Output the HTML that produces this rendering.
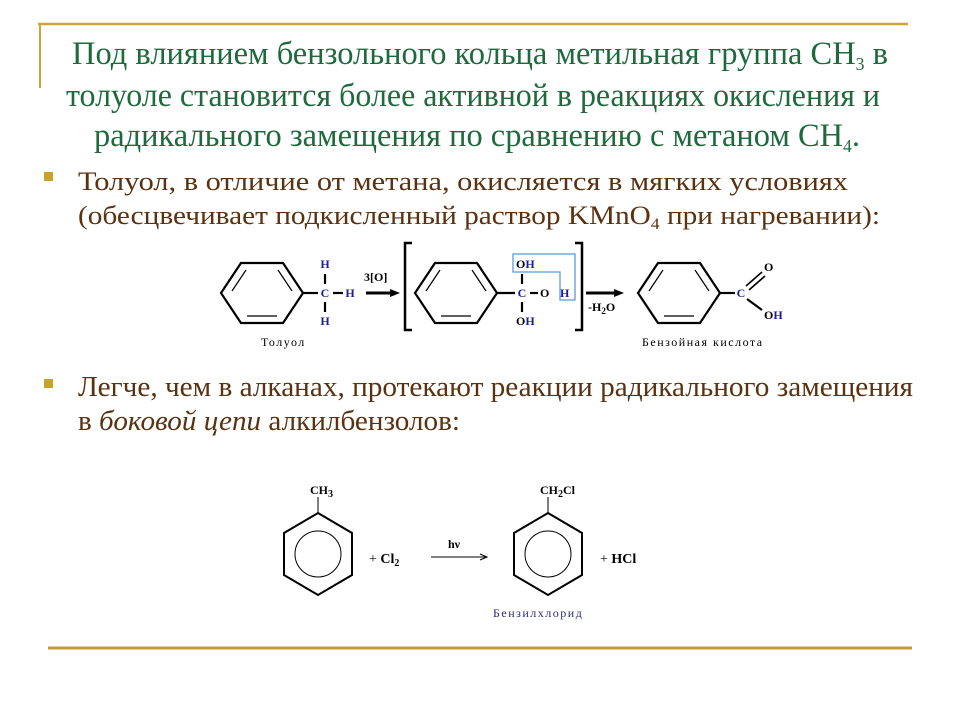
<!DOCTYPE html>
<html><head><meta charset="utf-8"><style>
html,body{margin:0;padding:0;background:#fff;width:960px;height:720px;overflow:hidden}
svg{display:block}
.t{font-family:"Liberation Serif",serif;fill:#1e6a3c;font-size:33px}
.b{font-family:"Liberation Serif",serif;fill:#5a3210;font-size:26.5px}
.b2{font-family:"Liberation Serif",serif;fill:#5a3210;font-size:28px}
.c{font-family:"Liberation Serif",serif;font-weight:bold;font-size:12px}
.bl{fill:#1a1a9a}
.lab{font-family:"Liberation Serif",serif;font-size:12px;letter-spacing:1.5px}
</style></head><body>
<svg width="960" height="720" viewBox="0 0 960 720" xmlns="http://www.w3.org/2000/svg">
<line x1="38" y1="24" x2="908" y2="24" stroke="#cfa53a" stroke-width="2.5"/>
<line x1="40" y1="23" x2="40" y2="88" stroke="#cfa53a" stroke-width="2"/>
<line x1="48" y1="648" x2="912" y2="648" stroke="#c49a3a" stroke-width="3"/>

<text class="t" x="72" y="64" textLength="816" lengthAdjust="spacingAndGlyphs">Под влиянием бензольного кольца метильная группа CH<tspan font-size="18" dy="6">3</tspan><tspan dy="-6"> в</tspan></text>
<text class="t" x="66" y="106" textLength="814" lengthAdjust="spacingAndGlyphs">толуоле становится более активной в реакциях окисления и</text>
<text class="t" x="94" y="146" textLength="766" lengthAdjust="spacingAndGlyphs">радикального замещения по сравнению с метаном CH<tspan font-size="18" dy="6">4</tspan><tspan dy="-6">.</tspan></text>

<rect x="44" y="172" width="9" height="9" fill="#c9a227"/>
<text class="b" x="78" y="190" textLength="770" lengthAdjust="spacingAndGlyphs">Толуол, в отличие от метана, окисляется в мягких условиях</text>
<text class="b" x="78" y="224" textLength="802" lengthAdjust="spacingAndGlyphs">(обесцвечивает подкисленный раствор KMnO<tspan font-size="16" dy="5">4</tspan><tspan dy="-5"> при нагревании):</tspan></text>

<rect x="44" y="379" width="9" height="9" fill="#c9a227"/>
<text class="b2" x="78" y="396" textLength="835" lengthAdjust="spacingAndGlyphs">Легче, чем в алканах, протекают реакции радикального замещения</text>
<text class="b2" x="78" y="430" textLength="382" lengthAdjust="spacingAndGlyphs">в <tspan font-style="italic">боковой цепи</tspan> алкилбензолов:</text>

<g stroke="#000" stroke-width="2.2" fill="none">
  <polygon points="221,293 241,263 283,263 303,293 283,323 241,323"/>
  <line x1="232" y1="291" x2="246" y2="270" stroke-width="1.2"/>
  <line x1="278" y1="270" x2="292" y2="291" stroke-width="1.2"/>
  <line x1="247" y1="316" x2="277" y2="316" stroke-width="1.2"/>
  <line x1="303" y1="293" x2="318" y2="293"/>
  <line x1="325" y1="274" x2="325" y2="284"/>
  <line x1="325" y1="302" x2="325" y2="312"/>
  <line x1="333" y1="293" x2="343" y2="293"/>
  <line x1="366" y1="293" x2="392" y2="293" stroke-width="3"/>
</g>
<polygon points="390,289 400,293 390,297" fill="#000"/>
<text class="c bl" x="325" y="268" text-anchor="middle">H</text>
<text class="c bl" x="325" y="297" text-anchor="middle">C</text>
<text class="c bl" x="325" y="325" text-anchor="middle">H</text>
<text class="c bl" x="350" y="297" text-anchor="middle">H</text>
<text class="c" x="364" y="281">3[O]</text>
<text class="lab" x="261" y="346">Толуол</text>

<path d="M412,243 H405 V330 H412" stroke="#000" stroke-width="2.5" fill="none"/>
<path d="M575,243 H582 V330 H575" stroke="#000" stroke-width="2.5" fill="none"/>
<g stroke="#000" stroke-width="2.2" fill="none">
  <polygon points="415,293 435,263 477,263 497,293 477,323 435,323"/>
  <line x1="426" y1="291" x2="440" y2="270" stroke-width="1.2"/>
  <line x1="472" y1="270" x2="486" y2="291" stroke-width="1.2"/>
  <line x1="441" y1="316" x2="471" y2="316" stroke-width="1.2"/>
  <line x1="497" y1="293" x2="515" y2="293"/>
  <line x1="522" y1="274" x2="522" y2="284"/>
  <line x1="522" y1="302" x2="522" y2="312"/>
  <line x1="530" y1="293" x2="538" y2="293"/>
</g>
<path d="M513,254 H575 V300 H560 V272 H513 Z" stroke="#5b9bd5" stroke-width="1.3" fill="none"/>
<text class="c" x="516" y="268">O<tspan class="bl">H</tspan></text>
<text class="c bl" x="522" y="297" text-anchor="middle">C</text>
<text class="c" x="540" y="297">O</text>
<text class="c bl" x="560" y="297">H</text>
<text class="c" x="516" y="325">O<tspan class="bl">H</tspan></text>

<line x1="586" y1="293" x2="616" y2="293" stroke="#000" stroke-width="3"/>
<polygon points="614,289 624,293 614,297" fill="#000"/>
<text class="c" x="588" y="311">-H<tspan font-size="9" dy="3">2</tspan><tspan dy="-3">O</tspan></text>

<g stroke="#000" stroke-width="2.2" fill="none">
  <polygon points="638,293 658,263 700,263 720,293 700,323 658,323"/>
  <line x1="649" y1="291" x2="663" y2="270" stroke-width="1.2"/>
  <line x1="695" y1="270" x2="709" y2="291" stroke-width="1.2"/>
  <line x1="664" y1="316" x2="694" y2="316" stroke-width="1.2"/>
  <line x1="720" y1="293" x2="735" y2="293"/>
  <line x1="746" y1="286" x2="762" y2="272" stroke-width="1.6"/>
  <line x1="749" y1="290" x2="765" y2="276" stroke-width="1.6"/>
  <line x1="747" y1="299" x2="762" y2="310"/>
</g>
<text class="c bl" x="741" y="297" text-anchor="middle">C</text>
<text class="c" x="764" y="271">O</text>
<text class="c" x="764" y="319">O<tspan class="bl">H</tspan></text>
<text class="lab" x="642" y="346">Бензойная кислота</text>

<g stroke="#000" fill="none">
  <polygon points="318,513 352,533 352,575 318,595 284,575 284,533" stroke-width="2"/>
  <circle cx="318" cy="554" r="23" stroke-width="1"/>
  <line x1="318" y1="497" x2="318" y2="513" stroke-width="1"/>
  <polygon points="548,513 582,533 582,575 548,595 514,575 514,533" stroke-width="2"/>
  <circle cx="548" cy="554" r="23" stroke-width="1"/>
  <line x1="548" y1="497" x2="548" y2="513" stroke-width="1"/>
  <line x1="431" y1="557" x2="486" y2="557" stroke-width="1"/>
  <path d="M480,554 L487,557 L480,560" stroke-width="1"/>
</g>
<text class="c" x="310" y="494" font-size="14">CH<tspan font-size="10" dy="3">3</tspan></text>
<text class="c" x="540" y="494" font-size="14">CH<tspan font-size="10" dy="3">2</tspan><tspan dy="-3">Cl</tspan></text>
<text font-family="Liberation Serif,serif" font-size="14" x="369" y="563">+  <tspan font-weight="bold">Cl</tspan><tspan font-size="10" dy="3" font-weight="bold">2</tspan></text>
<text class="c" x="448" y="548" font-size="14">hν</text>
<text font-family="Liberation Serif,serif" font-size="14" x="600" y="563">+  <tspan font-weight="bold">HCl</tspan></text>
<text class="lab" x="493" y="617" fill="#2a2a80">Бензилхлорид</text>
</svg>
</body></html>
